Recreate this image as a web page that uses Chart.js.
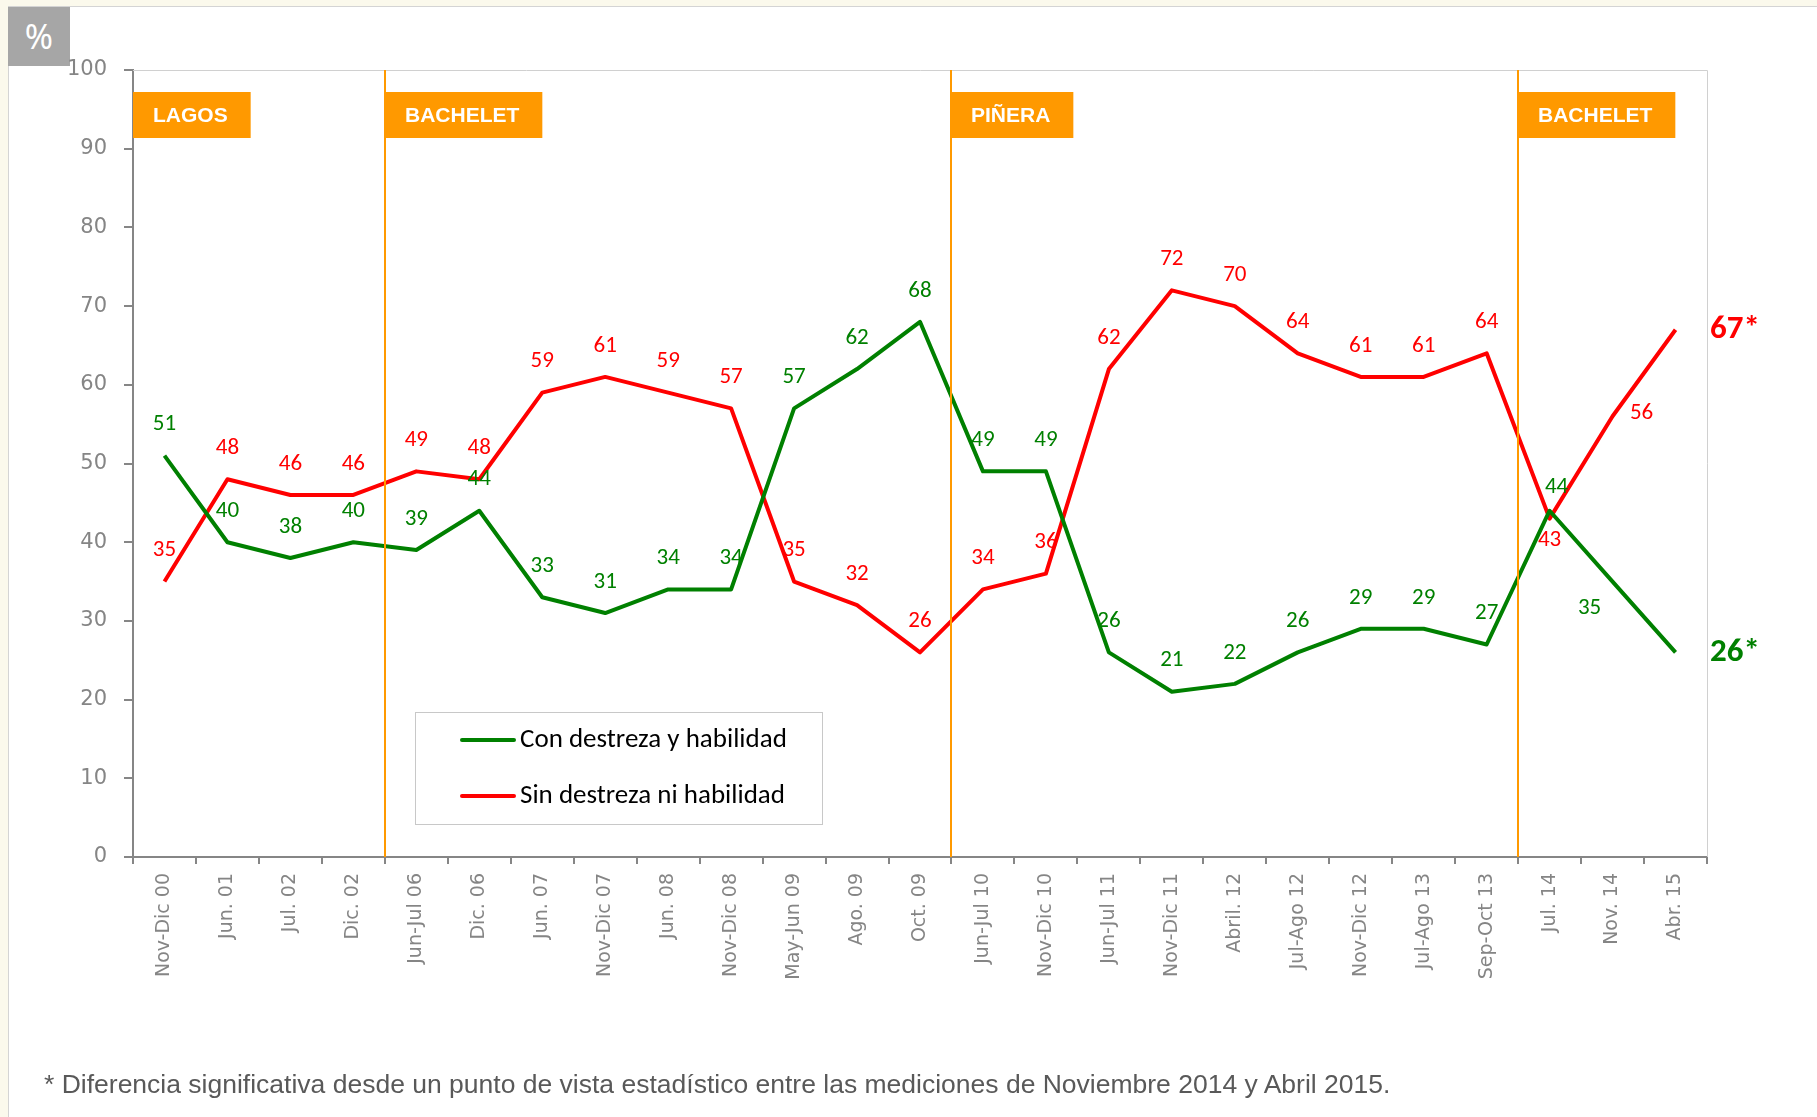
<!DOCTYPE html>
<html lang="es">
<head>
  <meta charset="UTF-8" />
  <title>Destreza y habilidad</title>
  <script src="https://cdn.jsdelivr.net/npm/chart.js"></script>
  <style>
    html, body { margin: 0; padding: 0; }
    body {
      width: 1817px; height: 1117px;
      background: #fbf9ec;
      position: relative; overflow: hidden;
    }
    .panel {
      position: absolute; left: 8px; top: 6px; right: 0; bottom: 0;
      background: #fff;
      border-left: 1px solid #d4d4d4; border-top: 1px solid #d4d4d4;
    }
    .pct {
      position: absolute; left: 8px; top: 7px; width: 62px; height: 59px;
      background: #a6a6a6; color: #fff;
      font: 34px 'Noto Sans', sans-serif; line-height: 59px; text-align: center;
    }
    #grafico { position: absolute; left: 0; top: 0; }
    .nota {
      position: absolute; left: 44px; top: 1069px;
      font: 26.5px 'Liberation Sans', Arial, sans-serif; color: #595959;
      white-space: nowrap;
    }
  </style>
</head>
<body>
  <div class="panel"></div>
  <div class="pct">%</div>
  <canvas id="grafico" width="1817" height="1117"></canvas>
  <div class="nota">* Diferencia significativa desde un punto de vista estadístico entre las mediciones de Noviembre 2014 y Abril 2015.</div>

  <script>
    const categorias = [
      'Nov-Dic 00', 'Jun. 01', 'Jul. 02', 'Dic. 02', 'Jun-Jul 06', 'Dic. 06', 'Jun. 07',
      'Nov-Dic 07', 'Jun. 08', 'Nov-Dic 08', 'May-Jun 09', 'Ago. 09', 'Oct. 09',
      'Jun-Jul 10', 'Nov-Dic 10', 'Jun-Jul 11', 'Nov-Dic 11', 'Abril. 12', 'Jul-Ago 12',
      'Nov-Dic 12', 'Jul-Ago 13', 'Sep-Oct 13', 'Jul. 14', 'Nov. 14', 'Abr. 15'
    ];
    const conDestreza = [51, 40, 38, 40, 39, 44, 33, 31, 34, 34, 57, 62, 68, 49, 49, 26, 21, 22, 26, 29, 29, 27, 44, 35, 26];
    const sinDestreza = [35, 48, 46, 46, 49, 48, 59, 61, 59, 57, 35, 32, 26, 34, 36, 62, 72, 70, 64, 61, 61, 64, 43, 56, 67];
    const ticksY = [0, 10, 20, 30, 40, 50, 60, 70, 80, 90, 100];

    // periodos de gobierno: nombre e indice de la primera medicion
    const gobiernos = ['LAGOS', 'BACHELET', 'PIÑERA', 'BACHELET'];
    const inicioGobierno = [0, 4, 13, 22];

    const VERDE = '#008000';
    const ROJO = '#ff0000';
    const NARANJA = '#ff9900';
    const GRIS = '#868686';

    // desplazamientos de etiquetas que no van encima del punto
    const ajustes = {
      '0-22': [7, -23],
      '1-22': [0, 22],
      '1-23': [29, -3],
      '0-23': [-23, 27]
    };

    const periodos = {
      id: 'periodos',
      afterDatasetsDraw(chart) {
        const { ctx, chartArea: a, scales: { x } } = chart;
        ctx.save();
        // borde fino arriba y a la derecha
        ctx.strokeStyle = '#d0d0d0';
        ctx.lineWidth = 1;
        ctx.beginPath();
        ctx.moveTo(a.left, a.top + 0.5);
        ctx.lineTo(a.right + 0.5, a.top + 0.5);
        ctx.lineTo(a.right + 0.5, a.bottom);
        ctx.stroke();

        ctx.font = 'bold 21px "Liberation Sans", Arial';
        ctx.textBaseline = 'middle';
        ctx.textAlign = 'left';
        inicioGobierno.forEach((idx, k) => {
          const bx = idx === 0 ? a.left
            : Math.round((x.getPixelForValue(idx - 1) + x.getPixelForValue(idx)) / 2);
          if (idx > 0) {
            ctx.strokeStyle = NARANJA;
            ctx.lineWidth = 2;
            ctx.beginPath();
            ctx.moveTo(bx, a.top);
            ctx.lineTo(bx, a.bottom);
            ctx.stroke();
          }
          const w = ctx.measureText(gobiernos[k]).width + 43;
          ctx.fillStyle = NARANJA;
          ctx.fillRect(bx, a.top + 22, w, 46);
          ctx.fillStyle = '#fff';
          ctx.fillText(gobiernos[k], bx + 20, a.top + 46);
        });
        ctx.restore();
      }
    };

    const etiquetas = {
      id: 'etiquetas',
      afterDatasetsDraw(chart) {
        const { ctx, chartArea: a } = chart;
        ctx.save();
        ctx.textBaseline = 'middle';
        chart.data.datasets.forEach((ds, d) => {
          const meta = chart.getDatasetMeta(d);
          meta.data.forEach((pt, i) => {
            ctx.fillStyle = ds.borderColor;
            if (i === ds.data.length - 1) {
              ctx.font = 'bold 33px Carlito, Lato, sans-serif';
              ctx.textAlign = 'left';
              ctx.fillText(ds.data[i] + '*', a.right + 3, pt.y);
              return;
            }
            const [dx, dy] = ajustes[d + '-' + i] || [0, -31];
            ctx.font = '23px Carlito, Lato, sans-serif';
            ctx.textAlign = 'center';
            ctx.fillText(String(ds.data[i]), pt.x + dx, pt.y + dy);
          });
        });
        ctx.restore();
      }
    };

    const leyenda = {
      id: 'leyenda',
      afterDraw(chart) {
        const { ctx, chartArea: a } = chart;
        const bx = a.left + 282, by = a.bottom - 145;
        ctx.save();
        ctx.fillStyle = '#fff';
        ctx.fillRect(bx, by, 407, 112);
        ctx.strokeStyle = '#c8c8c8';
        ctx.lineWidth = 1;
        ctx.strokeRect(bx + 0.5, by + 0.5, 407, 112);
        ctx.font = '27px Carlito, Lato, sans-serif';
        ctx.textBaseline = 'middle';
        ctx.textAlign = 'left';
        chart.data.datasets.forEach((ds, d) => {
          const y = by + 28 + d * 56;
          ctx.strokeStyle = ds.borderColor;
          ctx.lineWidth = 4;
          ctx.lineCap = 'round';
          ctx.beginPath();
          ctx.moveTo(bx + 47, y);
          ctx.lineTo(bx + 99, y);
          ctx.stroke();
          ctx.fillStyle = '#000';
          ctx.fillText(ds.label, bx + 105, y);
        });
        ctx.restore();
      }
    };

    new Chart(document.getElementById('grafico'), {
      type: 'line',
      data: {
        labels: categorias,
        datasets: [
          { label: 'Con destreza y habilidad', data: conDestreza, borderColor: VERDE, borderWidth: 4 },
          { label: 'Sin destreza ni habilidad', data: sinDestreza, borderColor: ROJO, borderWidth: 4 }
        ]
      },
      options: {
        responsive: false,
        animation: false,
        devicePixelRatio: 1,
        elements: { point: { radius: 0 }, line: { tension: 0, fill: false, borderJoinStyle: 'round' } },
        layout: { padding: { top: 70, right: 110, left: 0, bottom: 0 } },
        plugins: { legend: { display: false }, tooltip: { enabled: false } },
        scales: {
          x: {
            offset: true,
            grid: { offset: true, drawOnChartArea: false, tickLength: 7, color: GRIS, lineWidth: 2 },
            border: { color: GRIS, width: 2 },
            ticks: {
              autoSkip: false, minRotation: 90, maxRotation: 90, padding: 9,
              color: '#858585', font: { family: 'DejaVu Sans', size: 19 }
            },
            afterFit: s => { s.height = 260; }
          },
          y: {
            min: 0, max: 100,
            afterBuildTicks: s => { s.ticks = ticksY.map(v => ({ value: v })); },
            grid: { drawOnChartArea: false, tickLength: 9, color: GRIS, lineWidth: 2 },
            border: { color: GRIS, width: 2 },
            ticks: { padding: 17, color: '#858585', font: { family: 'DejaVu Sans', size: 21 } },
            afterFit: s => { s.width = 133; }
          }
        }
      },
      plugins: [periodos, etiquetas, leyenda]
    });
  </script>
</body>
</html>
